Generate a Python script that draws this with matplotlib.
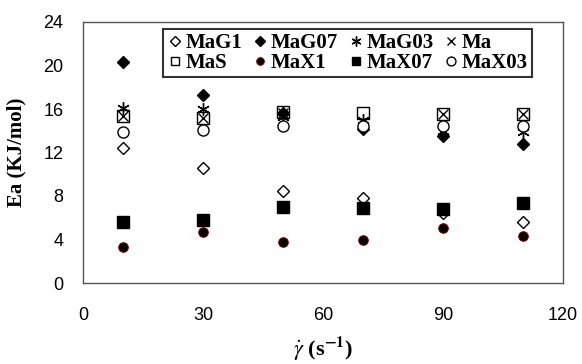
import matplotlib.pyplot as plt

shear = [10, 30, 50, 70, 90, 110]

MaG1 = [12.4, 10.6, 8.5, 7.8, 6.4, 5.6]
MaG07 = [20.3, 17.3, 15.6, 14.2, 13.5, 12.8]
MaG03 = [16.1, 16.0, 15.3, 15.0, 14.0, 13.9]
Ma = [15.4, 15.2, 15.6, 14.8, 15.5, 15.5]
MaS = [15.4, 15.2, 15.7, 15.6, 15.5, 15.5]
MaX1 = [3.3, 4.7, 3.8, 4.0, 5.1, 4.3]
MaX07 = [5.6, 5.8, 7.0, 6.9, 6.8, 7.4]
MaX03 = [13.9, 14.1, 14.4, 14.4, 14.4, 14.4]

plt.rcParams['mathtext.fontset'] = 'stix'

fig = plt.figure(figsize=(5.82, 3.64), dpi=100)
ax = fig.add_axes([83/582, 1 - 283/364, 480/582, 261/364])

# order so legend reads row-wise with ncol=4
ax.plot(shear, MaG1, 'D', ms=6, mfc='white', mec='black', mew=1.0, label='MaG1')
ax.plot(shear, MaS, 's', ms=8, mfc='white', mec='black', mew=1.0, label='MaS')
ax.plot(shear, MaG07, 'D', ms=6, mfc='black', mec='black', label='MaG07')
ax.plot(shear, MaX1, 'o', ms=7, mfc='black', mec='#8b0000', mew=0.6, label='MaX1')
ax.plot(shear, MaG03, linestyle='none', marker=(6, 2, 0), ms=9, mec='black', mew=1.0, label='MaG03')
ax.plot(shear, MaX07, 's', ms=8, mfc='black', mec='black', label='MaX07')
ax.plot(shear, Ma, 'x', ms=7, mec='black', mew=1.0, label='Ma')
ax.plot(shear, MaX03, 'o', ms=8, mfc='white', mec='black', mew=1.0, label='MaX03')

ax.set_xlim(0, 120)
ax.set_ylim(0, 24)
ax.set_xticks([0, 30, 60, 90, 120])
ax.set_yticks([0, 4, 8, 12, 16, 20, 24])
ax.tick_params(length=0, labelsize=13)
ax.tick_params(axis='x', pad=17)
ax.tick_params(axis='y', pad=14)
for lab in ax.get_xticklabels() + ax.get_yticklabels():
    lab.set_family('Liberation Sans')
for s in ax.spines.values():
    s.set_color('#555555')
    s.set_linewidth(1.0)

ax.set_ylabel('Ea (KJ/mol)', family='Liberation Serif', fontweight='bold', fontsize=15, labelpad=12)
ax.set_xlabel(r'$\dot{\gamma}$ (s$^{\mathbf{-1}}$)', family='Liberation Serif', fontweight='bold', fontsize=16, labelpad=8)

leg = ax.legend(ncol=4, loc='upper left', bbox_to_anchor=(80/480, 1 - 7/261),
                prop={'family': 'Liberation Serif', 'weight': 'bold', 'size': 15},
                frameon=True, fancybox=False, borderpad=0.2, handletextpad=0.1,
                columnspacing=0.45, handlelength=0.8, labelspacing=0.0, borderaxespad=0,
                markerscale=0.8)
leg.get_frame().set_edgecolor('black')
leg.get_frame().set_linewidth(1.5)

fig.savefig('out.png', dpi=100)
